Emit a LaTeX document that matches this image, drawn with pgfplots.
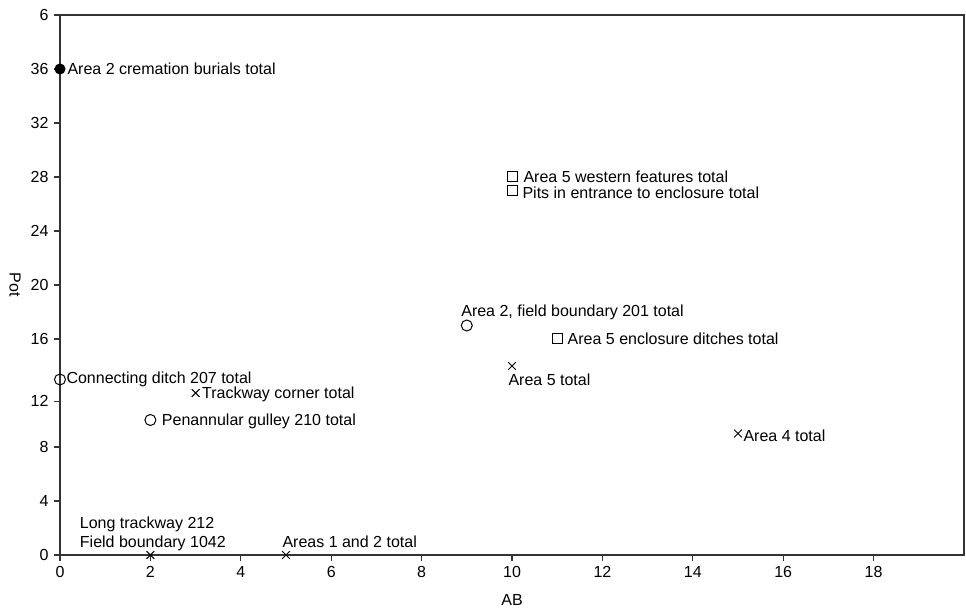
\documentclass[border=0pt]{standalone}
\usepackage{pgfplots}
\pgfplotsset{compat=1.18}
\usepackage{fontspec}
\setmainfont{Liberation Sans}
\newcommand{\lbl}{\fontsize{16bp}{18bp}\selectfont}
\begin{document}
\lbl
\begin{tikzpicture}
\begin{axis}[
  scale only axis, width=904bp, height=540bp,
  xmin=0, xmax=20, ymin=0, ymax=40,
  xtick={0,2,...,18},
  ytick={0,4,8,11.4,16,20,24,28,32,36,40},
  yticklabels={0,4,8,12,16,20,24,28,32,36,6},
  tick align=outside, major tick length=6bp,
  xtick pos=bottom, ytick pos=left,
  axis line style={black!80, line width=1.3bp},
  tick style={black!80, line width=1.1bp},
  tick label style={font=\fontsize{16bp}{18bp}\selectfont},
  /pgf/number format/assume math mode=true,
  xlabel={AB}, ylabel={Pot},
  xlabel style={font=\fontsize{16bp}{18bp}\selectfont, at={(axis description cs:0.5,-0.083)}, anchor=center},
  ylabel style={font=\fontsize{16bp}{18bp}\selectfont, at={(axis description cs:-0.0498,0.5)}, anchor=center, rotate=180},
  clip=false,
  every axis plot/.append style={only marks, black, line width=1bp},
]
% filled circle
\addplot[mark=*, mark size=5bp] coordinates {(0,36)};
% open circles
\addplot[mark=o, mark size=5.5bp] coordinates {(0,13) (2,10) (9,17)};
% squares
\addplot[mark=square, mark size=5bp] coordinates {(10,28) (10,27) (11,16)};
% crosses
\addplot[mark=x, mark size=5.5bp] coordinates {(3,12) (10,14) (15,9) (2,0) (5,0)};

\node[anchor=west, xshift=2bp] at (axis cs:0,36) {Area 2 cremation burials total};
\node[anchor=west, xshift=6bp] at (axis cs:10,28) {Area 5 western features total};
\node[anchor=west, xshift=5bp, yshift=-2bp] at (axis cs:10,27) {Pits in entrance to enclosure total};
\node[anchor=west, xshift=-11bp, yshift=13bp] at (axis cs:9,17) {Area 2, field boundary 201 total};
\node[anchor=west, xshift=5bp] at (axis cs:11,16) {Area 5 enclosure ditches total};
\node[anchor=west, xshift=-9bp, yshift=-14bp] at (axis cs:10,14) {Area 5 total};
\node[anchor=west, xshift=0bp, yshift=-2bp] at (axis cs:15,9) {Area 4 total};
\node[anchor=west, xshift=1bp] at (axis cs:0,13) {Connecting ditch 207 total};
\node[anchor=west, xshift=1bp, yshift=-1bp] at (axis cs:3,12) {Trackway corner total};
\node[anchor=west, xshift=6bp, yshift=-1bp] at (axis cs:2,10) {Penannular gulley 210 total};
\node[anchor=west, xshift=-76bp, yshift=31bp] at (axis cs:2,0) {Long trackway 212};
\node[anchor=west, xshift=-76bp, yshift=12bp] at (axis cs:2,0) {Field boundary 1042};
\node[anchor=west, xshift=-9bp, yshift=13bp] at (axis cs:5,0) {Areas 1 and 2 total};
\end{axis}
\pgfresetboundingbox
\path[use as bounding box] ([xshift=-60bp, yshift=-54bp]current axis.south west) rectangle ([xshift=2bp, yshift=15bp]current axis.north east);
\end{tikzpicture}
\end{document}
